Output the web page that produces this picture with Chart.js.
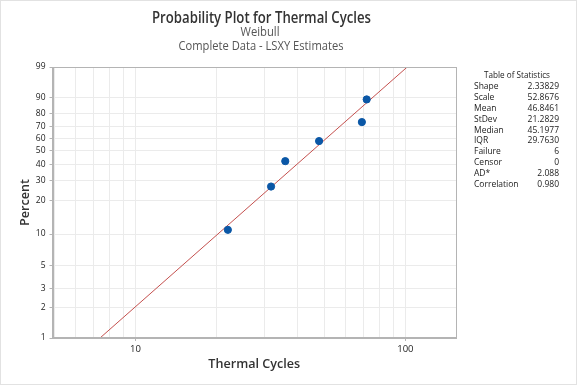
<!DOCTYPE html>
<html>
<head>
<meta charset="utf-8">
<script src="https://cdn.jsdelivr.net/npm/chart.js@4/dist/chart.umd.min.js"></script>
<style>
  html, body { margin: 0; padding: 0; background: #fff; }
  canvas { display: block; }
</style>
</head>
<body>
<canvas id="c" width="577" height="385"></canvas>
<script>
// ---- Data ----
const cycles = [22.0, 31.8, 35.9, 47.9, 69.0, 71.9];
const percents = [10.94, 26.56, 42.19, 57.81, 73.44, 89.06];
const yTickValues = [1, 2, 3, 5, 10, 20, 30, 40, 50, 60, 70, 80, 90, 99];
const xTickValues = [5, 6, 7, 8, 9, 10, 20, 30, 40, 50, 60, 70, 80, 90, 100];
const xTickLabels = [10, 100];
const weibullShape = 2.33829;
const weibullScale = 52.8676;
const statNames = ['Shape', 'Scale', 'Mean', 'StDev', 'Median', 'IQR', 'Failure', 'Censor', 'AD*', 'Correlation'];
const statValues = ['2.33829', '52.8676', '46.8461', '21.2829', '45.1977', '29.7630', '6', '0', '2.088', '0.980'];
const fitPercents = [1, 99];

// Weibull probability transform
const wb = p => Math.log(-Math.log(1 - p / 100));
const fitX = p => weibullScale * Math.pow(-Math.log(1 - p / 100), 1 / weibullShape);

const FONT = '"Open Sans", "Noto Sans", sans-serif';

const decor = {
  id: 'decor',
  beforeDraw(chart) {
    const ctx = chart.ctx;
    ctx.save();
    ctx.fillStyle = '#fff';
    ctx.fillRect(0, 0, chart.width, chart.height);
    ctx.strokeStyle = '#e2e2e2';
    ctx.lineWidth = 1;
    ctx.strokeRect(0.5, 0.5, chart.width - 1, chart.height - 1);
    ctx.restore();
  },
  afterDraw(chart) {
    const ctx = chart.ctx;
    const a = chart.chartArea;
    ctx.save();
    // box around plot
    ctx.strokeStyle = '#b4b4b4';
    ctx.lineWidth = 1;
    ctx.strokeRect(Math.round(a.left) + 0.5, Math.round(a.top) + 0.5,
      Math.round(a.right - a.left) - 1, Math.round(a.bottom - a.top) - 1);
    // titles
    ctx.textAlign = 'center';
    ctx.textBaseline = 'middle';
    ctx.fillStyle = '#333';
    ctx.font = '600 15.5px ' + FONT;
    ctx.fillText('Probability Plot for Thermal Cycles', 261.5, 18.5, 219);
    ctx.fillStyle = '#555';
    ctx.font = '400 13px ' + FONT;
    ctx.fillText('Weibull', 260, 32.5, 39);
    ctx.fillText('Complete Data - LSXY Estimates', 261, 46.5, 165);
    // table of statistics
    ctx.fillStyle = '#222';
    ctx.font = '400 8.5px ' + FONT;
    ctx.fillText('Table of Statistics', 517, 76, 66);
    for (let i = 0; i < statNames.length; i++) {
      const y = 87 + i * 10.8;
      ctx.textAlign = 'left';
      ctx.fillText(statNames[i], 474, y);
      ctx.textAlign = 'right';
      ctx.fillText(statValues[i], 559, y);
    }
    ctx.restore();
  }
};

new Chart(document.getElementById('c'), {
  type: 'scatter',
  data: {
    datasets: [
      {
        type: 'line',
        label: 'Fit',
        data: fitPercents.map(p => ({ x: fitX(p), y: wb(p) })),
        borderColor: '#c4504e',
        borderWidth: 1,
        pointRadius: 0,
        fill: false,
        order: 2
      },
      {
        label: 'Thermal Cycles',
        data: cycles.map((c, i) => ({ x: c, y: wb(percents[i]) })),
        backgroundColor: '#0a57a6',
        borderColor: '#0a57a6',
        pointRadius: 3.6,
        pointHoverRadius: 3.6,
        order: 1
      }
    ]
  },
  options: {
    responsive: false,
    animation: false,
    events: [],
    layout: { padding: { top: 67, right: 121, left: 0, bottom: 0 } },
    plugins: {
      legend: { display: false },
      tooltip: { enabled: false },
      title: { display: false }
    },
    scales: {
      x: {
        type: 'logarithmic',
        min: 4.93,
        max: 154,
        afterFit: s => { s.height = 47; },
        afterBuildTicks: s => { s.ticks = xTickValues.map(v => ({ value: v })); },
        ticks: {
          autoSkip: false,
          maxRotation: 0,
          padding: 3,
          color: '#222',
          font: { family: FONT, size: 9.5 },
          callback: v => xTickLabels.includes(v) ? String(v) : ''
        },
        grid: {
          color: '#ebebeb',
          tickLength: 3,
          tickColor: ctx => (ctx.tick && xTickLabels.includes(ctx.tick.value)) ? '#b4b4b4' : 'rgba(0,0,0,0)'
        },
        border: { display: true, color: '#b4b4b4' },
        title: {
          display: true,
          text: 'Thermal Cycles',
          color: '#333',
          font: { family: FONT, size: 12.6, weight: '600' },
          padding: { top: 0, bottom: 13.2 }
        }
      },
      y: {
        type: 'linear',
        min: wb(1),
        max: wb(99),
        afterFit: s => { s.width = 52.5; },
        afterBuildTicks: s => { s.ticks = yTickValues.map(p => ({ value: wb(p) })); },
        ticks: {
          autoSkip: false,
          padding: 4,
          color: '#222',
          font: { family: FONT, size: 8.5 },
          callback: (v, i) => String(yTickValues[i])
        },
        grid: { color: '#ebebeb', tickLength: 3, tickColor: '#b4b4b4' },
        border: { display: true, color: '#b4b4b4' },
        title: {
          display: true,
          text: 'Percent',
          color: '#333',
          font: { family: FONT, size: 12.6, weight: '600' },
          padding: { top: 18, bottom: 0 }
        }
      }
    }
  },
  plugins: [decor]
});
</script>
</body>
</html>
